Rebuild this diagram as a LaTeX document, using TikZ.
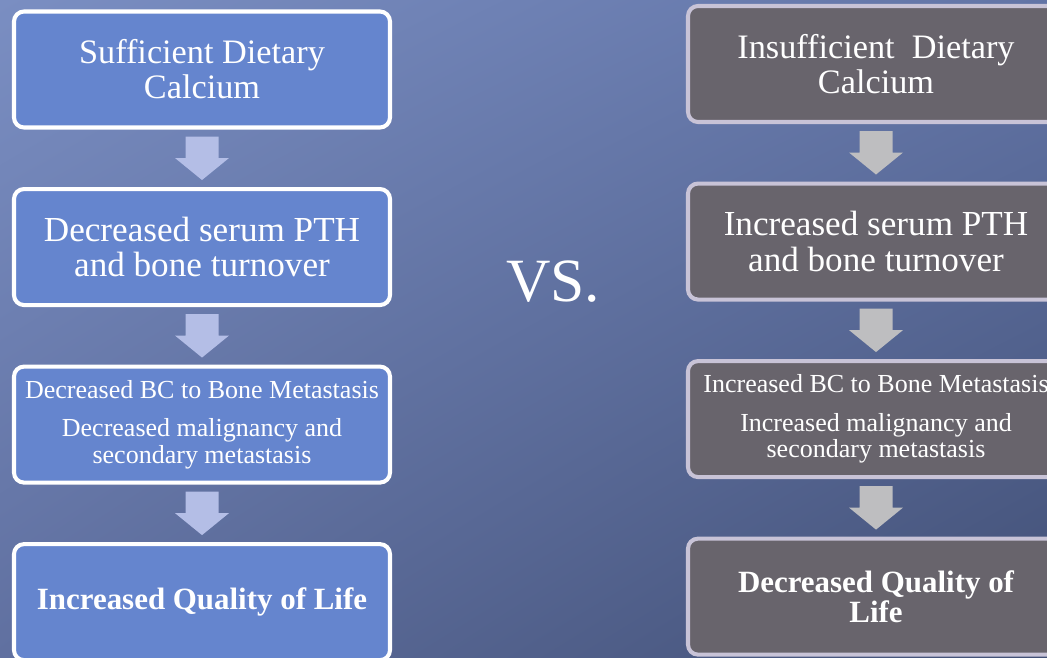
\documentclass[tikz,border=0pt]{standalone}
\usepackage{fontspec}
\setmainfont{Liberation Serif}
\usetikzlibrary{positioning,calc,shadings}

\definecolor{bgUL}{RGB}{122,142,194}
\definecolor{bgUR}{RGB}{98,116,166}
\definecolor{bgLL}{RGB}{96,112,160}
\definecolor{bgLR}{RGB}{66,80,118}
\definecolor{suffBlue}{RGB}{101,133,206}
\definecolor{suffArrow}{RGB}{180,190,230}
\definecolor{insuffGrey}{RGB}{104,100,108}
\definecolor{insuffEdge}{RGB}{200,195,215}
\definecolor{insuffArrow}{RGB}{190,190,192}

\tikzset{
  box/.style={rounded corners=0.2cm,line width=2.3pt,minimum width=7.52cm,
    minimum height=2.32cm,inner sep=2pt,align=center,text=white},
  suffbox/.style={box,fill=suffBlue,draw=white},
  insuffbox/.style={box,fill=insuffGrey,draw=insuffEdge},
  bigtext/.style={font=\fontsize{19.5}{20}\selectfont},
  pthtext/.style={font=\fontsize{20}{20}\selectfont},
  smalltext/.style={font=\fontsize{14.8}{15}\selectfont},
  boldtext/.style={font=\fontsize{17.6}{17}\selectfont\bfseries}
}

% fat down arrow between two boxes
\newcommand{\flowarrow}[3]{%
  \fill[#3] let \p1=(#1.south), \p2=(#2.north) in
    (\x1-0.33cm,\y1-0.14cm) -- (\x1+0.33cm,\y1-0.14cm) -- (\x1+0.33cm,\y2+0.58cm)
    -- (\x1+0.54cm,\y2+0.58cm) -- (\x1,\y2+0.14cm) -- (\x1-0.54cm,\y2+0.58cm)
    -- (\x1-0.33cm,\y2+0.58cm) -- cycle;}

\begin{document}
\begin{tikzpicture}
    \useasboundingbox (0,0) rectangle (20.94,-13.14);
    \clip (0,0) rectangle (20.94,-13.14);
    \shade[upper left=bgUL,upper right=bgUR,lower left=bgLL,lower right=bgLR]
        (0,0) rectangle (20.94,-13.14);

    % sufficient side
    \node[suffbox,bigtext] (suffCa) at (4.04,-1.39) {Sufficient Dietary\\Calcium};
    \node[suffbox,pthtext,below=1.15cm of suffCa] (pthDown) {Decreased serum PTH\\and bone turnover};
    \node[suffbox,smalltext,below=1.15cm of pthDown] (metDown)
        {Decreased BC to Bone Metastasis\\[7pt]
         Decreased malignancy and\\secondary metastasis};
    \node[suffbox,boldtext,below=1.15cm of metDown] (qolUp) {Increased Quality of Life};

    % insufficient side
    \node[insuffbox,bigtext] (insuffCa) at (17.52,-1.28) {Insufficient\ \ Dietary\\Calcium};
    \node[insuffbox,pthtext,below=1.15cm of insuffCa] (pthUp) {Increased serum PTH\\and bone turnover};
    \node[insuffbox,smalltext,below=1.15cm of pthUp] (metUp)
        {Increased BC to Bone Metastasis\\[7pt]
         Increased malignancy and\\secondary metastasis};
    \node[insuffbox,boldtext,below=1.15cm of metUp] (qolDown) {Decreased Quality of\\Life};

    \node[text=white,font=\fontsize{35}{40}\selectfont] (vs) at (11.06,-5.64) {VS.};

    \flowarrow{suffCa}{pthDown}{suffArrow}
    \flowarrow{pthDown}{metDown}{suffArrow}
    \flowarrow{metDown}{qolUp}{suffArrow}
    \flowarrow{insuffCa}{pthUp}{insuffArrow}
    \flowarrow{pthUp}{metUp}{insuffArrow}
    \flowarrow{metUp}{qolDown}{insuffArrow}
\end{tikzpicture}
\end{document}
